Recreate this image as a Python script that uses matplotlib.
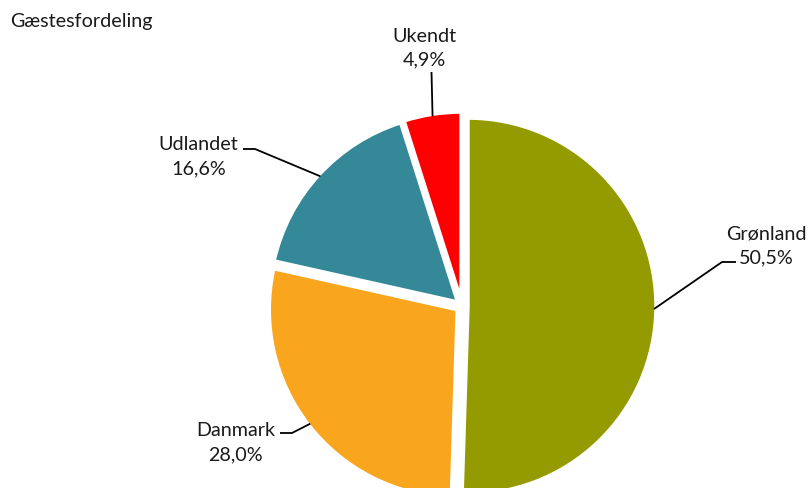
import matplotlib
matplotlib.use("Agg")
import matplotlib.pyplot as plt
import numpy as np

categories = ["Grønland", "Danmark", "Udlandet", "Ukendt"]
values = [50.5, 28.0, 16.6, 4.9]
labels = ["50,5%", "28,0%", "16,6%", "4,9%"]
colors = ["#939B00", "#F9A51D", "#358898", "#FF0000"]
title = "Gæstesfordeling"

plt.rcParams['font.family'] = ['Lato', 'DejaVu Sans']

W, H = 808, 488
fig = plt.figure(figsize=(W / 100, H / 100), dpi=100)
ax = fig.add_axes([0, 0, 1, 1])

cx, cy, R = 462, 488 - 306, 188
wedges, _ = ax.pie(values, colors=colors, startangle=90, counterclock=False,
                   radius=R, center=(cx, cy), explode=[6, 6, 6, 6],
                   wedgeprops=dict(edgecolor='white', linewidth=2.5),
                   frame=True)
ax.set_xlim(0, W)
ax.set_ylim(0, H)
ax.set_aspect('equal')
ax.axis('off')

# label positions (pixel coords, y from top): text centre, leader line points
label_text_pos = [(766, 246), (235.5, 443), (198.5, 157), (424, 48)]
leader_pts = [
    [(736, 262), (722, 262)],
    [(280, 433), (292, 433)],
    [(243, 149), (255, 149)],
    [(431.5, 72)],
]

for i, w in enumerate(wedges):
    ang = np.deg2rad((w.theta1 + w.theta2) / 2)
    ex, ey = w.center
    px = ex + (R - 2) * np.cos(ang)
    py = ey + (R - 2) * np.sin(ang)
    pts = [(x, H - y) for x, y in leader_pts[i]] + [(px, py)]
    xs, ys = zip(*pts)
    ax.plot(xs, ys, color='black', lw=1.3, solid_capstyle='butt')
    tx, ty = label_text_pos[i]
    ax.text(tx, H - ty, f"{categories[i]}\n{labels[i]}", ha='center', va='center',
            fontsize=14.2, color='#1a1a1a', linespacing=1.5)

ax.text(10, H - 21, title, ha='left', va='center', fontsize=14.2, color='#1a1a1a')

fig.savefig("out.png", dpi=100)
